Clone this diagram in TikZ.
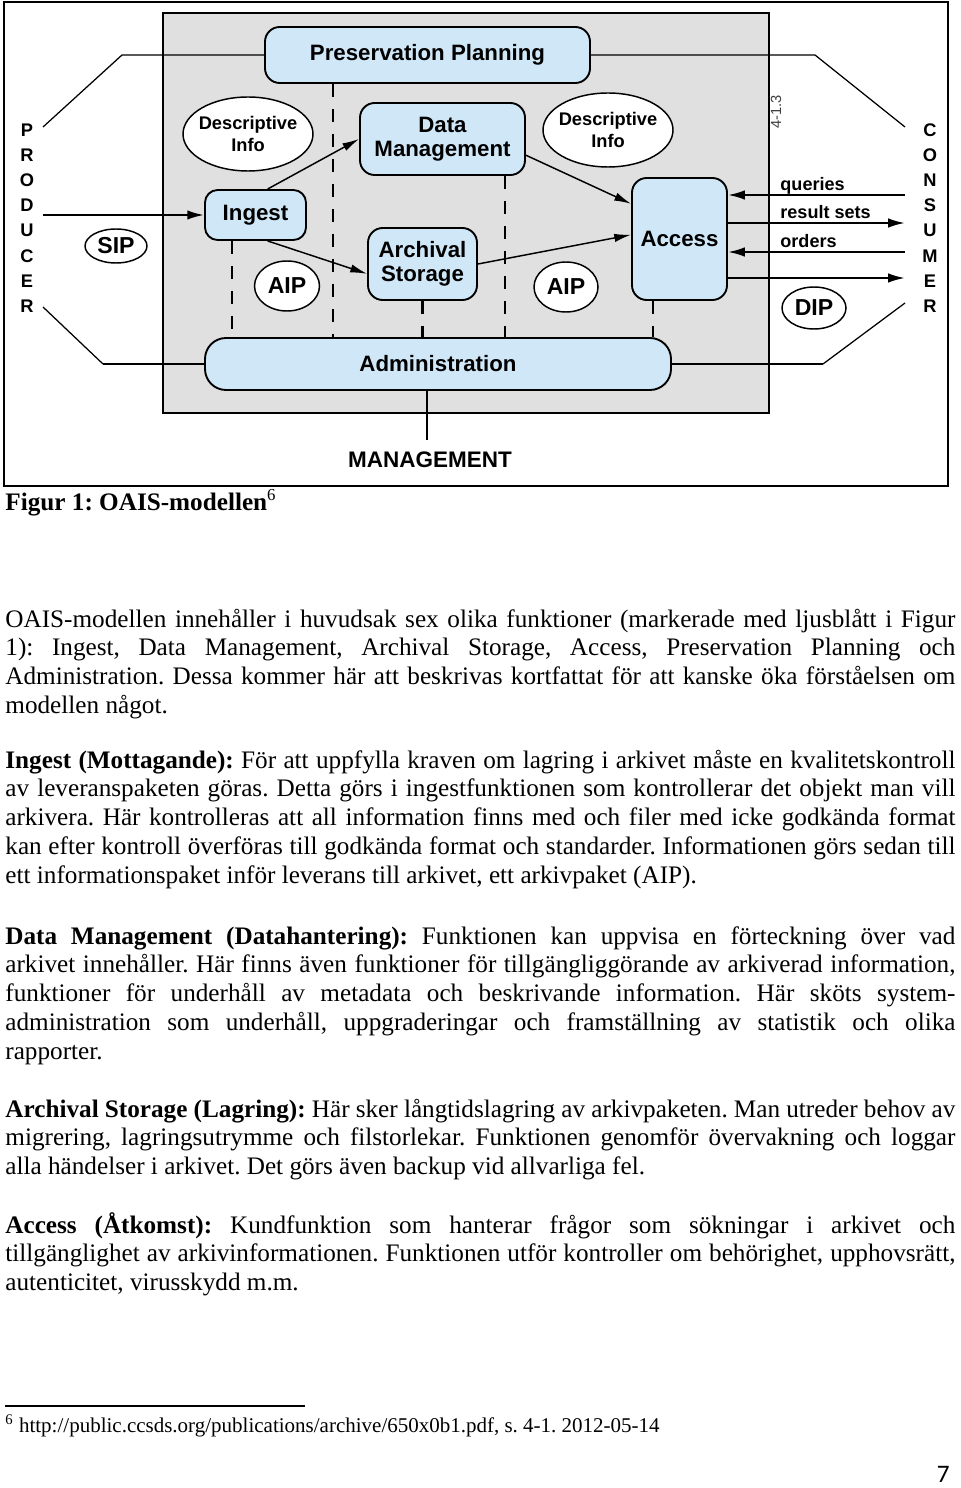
\documentclass[tikz,border=0pt]{standalone}
\usepackage{fontspec}
\setmainfont{Liberation Serif}
\setsansfont{Liberation Sans}
\newfontfamily\pagenofont{Carlito}
\usetikzlibrary{arrows.meta,shapes.geometric}

\definecolor{funcblue}{RGB}{208,231,247}
\definecolor{stipple}{RGB}{224,224,224}
\newcommand\pxl{0.4762pt}
\newlength\linewd
\setlength\linewd{452.4pt}
\newcommand\jline[1]{\makebox[\linewd][s]{#1}}
\frenchspacing

\tikzset{
  func/.style={draw,line width=0.9pt,rounded corners=7pt,fill=funcblue,align=center,
    font=\sffamily\bfseries\fontsize{10.6}{11.6}\selectfont},
  pkg/.style={ellipse,draw,line width=0.7pt,fill=white,inner sep=0pt,align=center,
    font=\sffamily\bfseries\fontsize{11}{12}\selectfont},
  descr/.style={pkg,inner xsep=-3pt,font=\sffamily\bfseries\fontsize{8.7}{10.4}\selectfont},
  letter/.style={font=\sffamily\bfseries\fontsize{8.7}{9}\selectfont,inner sep=0pt},
  flowlbl/.style={font=\sffamily\bfseries\fontsize{8.6}{9}\selectfont,inner sep=0pt,anchor=base west},
  flow/.style={line width=1pt,-{Latex[length=8pt,width=4.5pt]}},
  inflow/.style={line width=0.7pt,-{Latex[length=8pt,width=4pt]}},
  link/.style={line width=0.6pt},
  dline/.style={line width=1.1pt,dash pattern=on 6.2pt off 5.7pt},
  body/.style={font=\frenchspacing\fontsize{12}{13.8}\selectfont,inner sep=0pt,anchor=base west},
}

\begin{document}
\begin{tikzpicture}[x=\pxl,y=-\pxl]
\useasboundingbox (0,0) rectangle (960,1488);
\fill[white] (0,0) rectangle (960,1488);

% frames
\draw[line width=1.4pt] (4,2) rectangle (948,486);
\draw[line width=1.2pt,fill=stipple] (163,13) rectangle (769,413);

% functional entities
\node[func,minimum width=325*\pxl,minimum height=56*\pxl] (pp) at (427.5,55) {Preservation Planning};
\node[func,minimum width=165*\pxl,minimum height=72*\pxl] (dm) at (442.5,139) {Data\\Management};
\node[func,minimum width=101*\pxl,minimum height=50*\pxl,rounded corners=6pt] (ingest) at (255.5,215) {Ingest};
\node[func,minimum width=109*\pxl,minimum height=72*\pxl] (arch) at (422.5,264) {Archival\\Storage};
\node[func,minimum width=95*\pxl,minimum height=122*\pxl] (access) at (679.5,239) {Access};
\node[func,minimum width=466*\pxl,minimum height=52*\pxl,rounded corners=10pt] (admin) at (438,364) {Administration};

% packages
\node[descr,minimum width=130*\pxl,minimum height=74*\pxl] (di1) at (248,134) {Descriptive\\Info};
\node[descr,minimum width=130*\pxl,minimum height=74*\pxl] (di2) at (608,130) {Descriptive\\Info};
\node[pkg,minimum width=62*\pxl,minimum height=34*\pxl] (sip) at (116,246) {SIP};
\node[pkg,minimum width=65*\pxl,minimum height=50*\pxl] (aip1) at (287,286) {AIP};
\node[pkg,minimum width=64*\pxl,minimum height=50*\pxl] (aip2) at (566,287) {AIP};
\node[pkg,minimum width=64*\pxl,minimum height=42*\pxl] (dip) at (814,308) {DIP};

\foreach \ch [count=\i from 0] in {P,R,O,D,U,C,E,R}
  \node[letter] (prod\i) at (27,130+25.2*\i) {\ch};
\foreach \ch [count=\i from 0] in {C,O,N,S,U,M,E,R}
  \node[letter] (cons\i) at (930,130+25.2*\i) {\ch};

\node[rotate=90,font=\sffamily\fontsize{7}{8}\selectfont,text=black!75,inner sep=0pt] (pgref) at (776,112) {4-1.3};

% producer side
\coordinate (prodtop) at (43,127);
\coordinate (prodbend) at (122,55);
\coordinate (prodin) at (43,215);
\coordinate (prodlow) at (43,307);
\coordinate (prodlowbend) at (103,364);
\draw[link] (prodtop) -- (prodbend) -- (pp.west);
\draw[flow] (prodin) -- (ingest.west);
\draw[link] (prodlow) -- (prodlowbend);
\draw[line width=1.3pt] (prodlowbend) -- (admin.west);

% consumer side
\coordinate (constop) at (905,127);
\coordinate (consbend) at (815,55);
\coordinate (cq) at (905,195);
\coordinate (cr) at (905,223);
\coordinate (co) at (905,252);
\coordinate (cd) at (905,278);
\coordinate (conslowbend) at (823,364);
\coordinate (conslow) at (905,303);
\draw[link] (pp.east) -- (consbend) -- (constop);
\draw[flow] (cq) -- (cq -| access.east);
\draw[flow] (cr -| access.east) -- (cr);
\draw[flow] (co) -- (co -| access.east);
\draw[flow] (cd -| access.east) -- (cd);
\draw[line width=1.3pt] (admin.east) -- (conslowbend);
\draw[link] (conslowbend) -- (conslow);
\node[flowlbl] (lq) at (780,191) {queries};
\node[flowlbl] (lr) at (780,219) {result sets};
\node[flowlbl] (lo) at (780,248) {orders};

% inside the archive
\draw[inflow] (ingest.65) -- (dm.west);
\draw[inflow] (ingest.-65) -- (arch.190);
\draw[inflow] (dm.-11) -- (access.144);
\draw[inflow] (arch.east) -- (access.175);

\coordinate (dx1) at (232,0);
\coordinate (dx2) at (333,0);
\coordinate (dx3) at (505,0);
\coordinate (dx4) at (653,0);
\draw[dline] (ingest.south -| dx1) -- (admin.north -| dx1);
\draw[dline] (pp.south -| dx2) -- (admin.north -| dx2);
\draw[dline] (dm.south -| dx3) -- (admin.north -| dx3);
\draw[dline] (arch.south) -- (arch.south |- admin.north);
\draw[dline] (access.south -| dx4) -- (admin.north -| dx4);

\node[font=\sffamily\bfseries\fontsize{10.7}{12}\selectfont,inner sep=0pt] (mgmt) at (430,460) {MANAGEMENT};
\coordinate (mtop) at (427,440);
\draw[line width=1.3pt] (admin.south -| mtop) -- (mtop);

% text of the page
\node[body] (cap) at (5,510) {\textbf{Figur 1: OAIS-modellen}\textsuperscript{6}};

\foreach \ptext [count=\i from 0] in {
  {OAIS-modellen innehåller i huvudsak sex olika funktioner (markerade med ljusblått i Figur},
  {1): Ingest, Data Management, Archival Storage, Access, Preservation Planning och},
  {Administration. Dessa kommer här att beskrivas kortfattat för att kanske öka förståelsen om},
  {modellen något.\hfill}}
  \node[body] (intro\i) at (5,627+28.75*\i) {\jline{\ptext}};

\foreach \ptext [count=\i from 0] in {
  {\textbf{Ingest (Mottagande):} För att uppfylla kraven om lagring i arkivet måste en kvalitetskontroll},
  {av leveranspaketen göras. Detta görs i ingestfunktionen som kontrollerar det objekt man vill},
  {arkivera. Här kontrolleras att all information finns med och filer med icke godkända format},
  {kan efter kontroll överföras till godkända format och standarder. Informationen görs sedan till},
  {ett informationspaket inför leverans till arkivet, ett arkivpaket (AIP).\hfill}}
  \node[body] (ingp\i) at (5,768+28.75*\i) {\jline{\ptext}};

\foreach \ptext [count=\i from 0] in {
  {\textbf{Data Management (Datahantering):} Funktionen kan uppvisa en förteckning över vad},
  {arkivet innehåller. Här finns även funktioner för tillgängliggörande av arkiverad information,},
  {funktioner för underhåll av metadata och beskrivande information. Här sköts system-},
  {administration som underhåll, uppgraderingar och framställning av statistik och olika},
  {rapporter.\hfill}}
  \node[body] (dmp\i) at (5,944+28.75*\i) {\jline{\ptext}};

\foreach \ptext [count=\i from 0] in {
  {\textbf{Archival Storage (Lagring):} Här sker långtidslagring av arkivpaketen. Man utreder behov av},
  {migrering, lagringsutrymme och filstorlekar. Funktionen genomför övervakning och loggar},
  {alla händelser i arkivet. Det görs även backup vid allvarliga fel.\hfill}}
  \node[body] (asp\i) at (5,1117+28.75*\i) {\jline{\ptext}};

\foreach \ptext [count=\i from 0] in {
  {\textbf{Access (Åtkomst):} Kundfunktion som hanterar frågor som sökningar i arkivet och},
  {tillgänglighet av arkivinformationen. Funktionen utför kontroller om behörighet, upphovsrätt,},
  {autenticitet, virusskydd m.m.\hfill}}
  \node[body] (acp\i) at (5,1233+28.75*\i) {\jline{\ptext}};

% footnote
\coordinate (fnl) at (5,1406);
\coordinate (fnr) at (305,1406);
\draw[line width=0.6pt] (fnl) -- (fnr);
\node[font=\frenchspacing\fontsize{10}{12}\selectfont,inner sep=0pt,anchor=base west] (fn) at (5,1432)
  {\textsuperscript{6} http://public.ccsds.org/publications/archive/650x0b1.pdf, s. 4-1. 2012-05-14};
\node[font=\pagenofont\fontsize{12}{14}\selectfont,inner sep=0pt,anchor=base east] (pgno) at (950,1482) {7};
\end{tikzpicture}
\end{document}
